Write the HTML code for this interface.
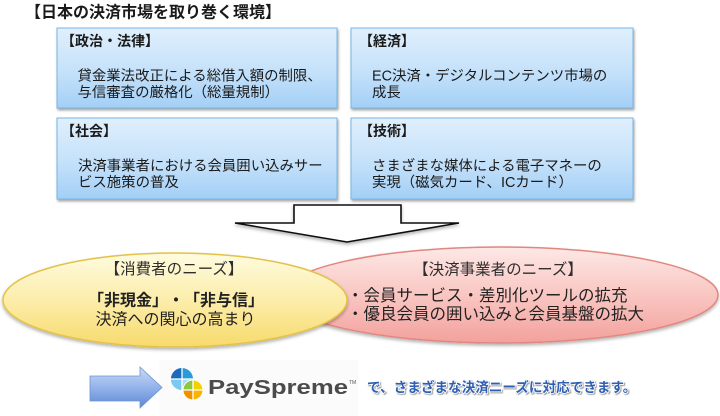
<!DOCTYPE html>
<html><head><meta charset="utf-8">
<style>
html,body{margin:0;padding:0;background:#fff;}
svg{display:block;}
text{font-family:"Liberation Sans","Noto Sans CJK JP",sans-serif;text-spacing-trim:space-all;}
</style></head>
<body>
<svg width="720" height="416" viewBox="0 0 720 416" xmlns="http://www.w3.org/2000/svg">
<defs>
<linearGradient id="gBox" x1="0" y1="0" x2="0" y2="1">
<stop offset="0" stop-color="#e0effc"/>
<stop offset="0.55" stop-color="#c4e1fa"/>
<stop offset="1" stop-color="#a3cff6"/>
</linearGradient>
<linearGradient id="gYel" x1="0" y1="0" x2="0" y2="1">
<stop offset="0" stop-color="#fefbe0"/>
<stop offset="0.5" stop-color="#fcedaa"/>
<stop offset="1" stop-color="#f7da6c"/>
</linearGradient>
<linearGradient id="gRed" x1="0" y1="0" x2="0" y2="1">
<stop offset="0" stop-color="#fde8e6"/>
<stop offset="0.5" stop-color="#f9c6c2"/>
<stop offset="1" stop-color="#f3a19c"/>
</linearGradient>
<linearGradient id="gArr" x1="0" y1="0" x2="0" y2="1">
<stop offset="0" stop-color="#c9dbf7"/>
<stop offset="0.5" stop-color="#93b3ea"/>
<stop offset="1" stop-color="#5f88d2"/>
</linearGradient>
<filter id="sh" x="-10%" y="-10%" width="120%" height="130%">
<feDropShadow dx="1" dy="2" stdDeviation="1.2" flood-color="#000" flood-opacity="0.35"/>
</filter>
<filter id="sh2" x="-10%" y="-10%" width="120%" height="130%">
<feDropShadow dx="0" dy="2" stdDeviation="1.5" flood-color="#000" flood-opacity="0.3"/>
</filter>
<filter id="tsh" x="-5%" y="-20%" width="110%" height="150%">
<feDropShadow dx="1" dy="1" stdDeviation="0.6" flood-color="#666" flood-opacity="0.7"/>
</filter>
</defs>

<!-- Title -->
<text x="25" y="17.5" font-size="16" font-weight="bold" fill="#1a1a1a">【日本の決済市場を取り巻く環境】</text>

<!-- Boxes -->
<g filter="url(#sh)">
<rect x="57" y="28" width="280" height="80" fill="url(#gBox)" stroke="#78b6e4" stroke-width="1"/>
<rect x="351" y="28" width="282" height="80" fill="url(#gBox)" stroke="#78b6e4" stroke-width="1"/>
<rect x="57" y="118" width="280" height="81" fill="url(#gBox)" stroke="#78b6e4" stroke-width="1"/>
<rect x="351" y="118" width="282" height="81" fill="url(#gBox)" stroke="#78b6e4" stroke-width="1"/>
</g>

<g fill="#1a1a1a">
<text x="61" y="46" font-size="14" font-weight="bold">【政治・法律】</text>
<text x="77.5" y="80.5" font-size="14.4">貸金業法改正による総借入額の制限、</text>
<text x="77.5" y="97" font-size="14.4">与信審査の厳格化（総量規制）</text>

<text x="359" y="46" font-size="14" font-weight="bold">【経済】</text>
<text x="372" y="80.5" font-size="14.4">EC決済・デジタルコンテンツ市場の</text>
<text x="372" y="97" font-size="14.4">成長</text>

<text x="61" y="136" font-size="14" font-weight="bold">【社会】</text>
<text x="78" y="170.5" font-size="14.4">決済事業者における会員囲い込みサー</text>
<text x="78" y="187" font-size="14.4">ビス施策の普及</text>

<text x="359" y="136" font-size="14" font-weight="bold">【技術】</text>
<text x="372" y="170.5" font-size="14.4">さまざまな媒体による電子マネーの</text>
<text x="372" y="187" font-size="14.4">実現（磁気カード、ICカード）</text>
</g>

<!-- Big down arrow -->
<polygon points="294,205 401,205 401,223 459,223 347,242 235,223 294,223" fill="#fff" stroke="#111" stroke-width="1.6" stroke-linejoin="miter" filter="url(#sh2)"/>

<!-- Red ellipse -->
<ellipse cx="500" cy="295" rx="218" ry="48" fill="url(#gRed)" stroke="#e2877f" stroke-width="1.5" filter="url(#sh2)"/>
<!-- Yellow ellipse -->
<ellipse cx="175" cy="300" rx="172" ry="47" fill="url(#gYel)" stroke="#e3c245" stroke-width="1.5" filter="url(#sh2)"/>

<g fill="#222">
<text x="174" y="274" font-size="15.5" text-anchor="middle" fill="#2e2e2e">【消費者のニーズ】</text>
<text x="176" y="305.5" font-size="16" font-weight="bold" text-anchor="middle">「非現金」・「非与信」</text>
<text x="175.5" y="324.5" font-size="16" text-anchor="middle">決済への関心の高まり</text>

<text x="498" y="274.5" font-size="15.5" text-anchor="middle" fill="#2e2e2e">【決済事業者のニーズ】</text>
<text x="347" y="301" font-size="16.5">・会員サービス・差別化ツールの拡充</text>
<text x="347" y="319.5" font-size="16.5">・優良会員の囲い込みと会員基盤の拡大</text>
</g>

<!-- bottom -->
<rect x="159" y="360" width="199" height="56" fill="#fbfbfb"/>
<polygon points="90,376 140,376 140,367 162,387.5 140,408 140,401 90,401" fill="url(#gArr)" stroke="#6e92d2" stroke-width="0.8"/>

<!-- logo icon -->
<g>
<circle cx="182" cy="379" r="11" fill="#2a9ad8"/>
<path d="M182,379 L182,368 A11,11 0 0,0 171,379 Z" fill="#1b6bbd"/>
<path d="M182,379 L171,379 A11,11 0 0,0 182,390 Z" fill="#79c9f1"/>
<path d="M182,379 L182,390 A11,11 0 0,0 193,379 Z" fill="#a9dcf6"/>
<line x1="182" y1="368" x2="182" y2="390" stroke="#fff" stroke-width="1.3"/>
<line x1="171" y1="379" x2="193" y2="379" stroke="#fff" stroke-width="1.3"/>
<circle cx="193" cy="390" r="10.5" fill="#fff"/>
<circle cx="193" cy="390" r="9.5" fill="#f5d000"/>
<path d="M193,390 L193,380.5 A9.5,9.5 0 0,0 183.5,390 Z" fill="#8dc63f"/>
<path d="M193,390 L183.5,390 A9.5,9.5 0 0,0 193,399.5 Z" fill="#f29100"/>
<path d="M193,390 L193,399.5 A9.5,9.5 0 0,0 202.5,390 Z" fill="#f8b500"/>
<line x1="193" y1="380.5" x2="193" y2="399.5" stroke="#fff" stroke-width="1.3"/>
<line x1="183.5" y1="390" x2="202.5" y2="390" stroke="#fff" stroke-width="1.3"/>
</g>
<text x="208" y="394" font-size="20" font-weight="bold" fill="#4b4b4b" textLength="140" lengthAdjust="spacingAndGlyphs">PaySpreme</text>
<text x="349" y="384" font-size="5" fill="#555">TM</text>

<text x="367" y="392" font-size="13.6" font-weight="bold" fill="#2d5fb3" stroke="#ffffff" stroke-width="1.6" paint-order="stroke" filter="url(#tsh)">で、さまざまな決済ニーズに対応できます。</text>
</svg>
</body></html>
